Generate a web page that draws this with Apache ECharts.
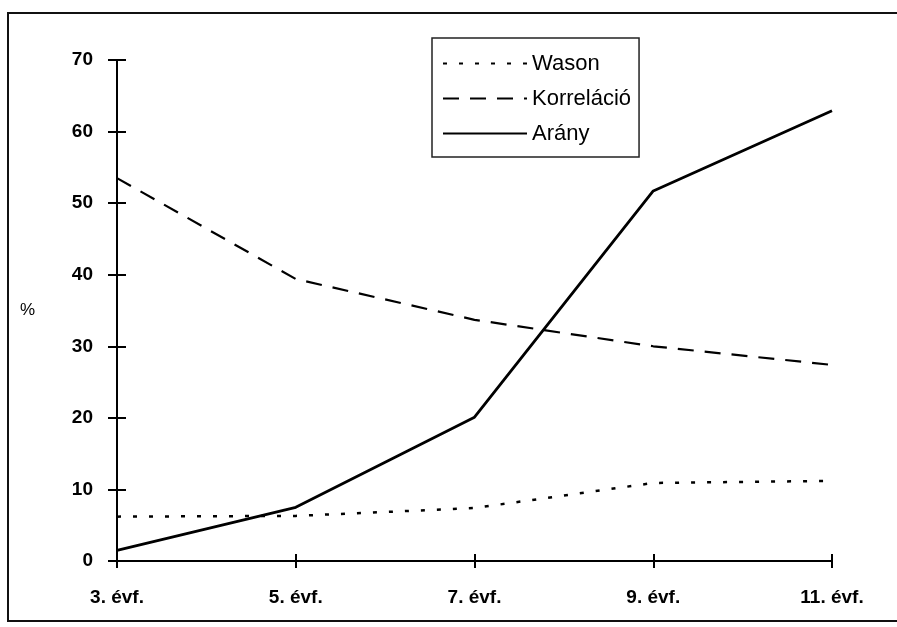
<!DOCTYPE html>
<html>
<head>
<meta charset="utf-8">
<script src="https://cdn.jsdelivr.net/npm/echarts@6/dist/echarts.min.js"></script>
<style>
html,body{margin:0;padding:0;background:#fff;}
#main{width:897px;height:627px;}
</style>
</head>
<body>
<div id="main"></div>
<script>
var categories = ['3. évf.', '5. évf.', '7. évf.', '9. évf.', '11. évf.'];
var wason = [6.2, 6.3, 7.4, 10.9, 11.2];
var korrelacio = [53.5, 39.4, 33.7, 30.0, 27.4];
var arany = [1.5, 7.5, 20.1, 51.7, 62.9];
var yTicks = [0, 10, 20, 30, 40, 50, 60, 70];

var chart = echarts.init(document.getElementById('main'));

var fontFam = 'Liberation Sans, Arial, sans-serif';

var option = {
  backgroundColor: '#fff',
  animation: false,
  graphic: [{
    type: 'rect',
    shape: { x: 8, y: 13, width: 900, height: 608 },
    style: { fill: 'none', stroke: '#111', lineWidth: 2 }
  }],
  legend: {
    orient: 'vertical',
    left: 432,
    top: 38,
    padding: [13, 8, 11, 10],
    itemGap: 10,
    itemWidth: 84,
    itemHeight: 25,
    borderColor: '#222',
    borderWidth: 1.5,
    borderRadius: 0,
    itemStyle: { opacity: 0 },
    textStyle: { color: '#000', fontFamily: fontFam, fontSize: 22, lineHeight: 25 },
    data: ['Wason', 'Korreláció', 'Arány']
  },
  grid: { left: 117, right: 65, top: 60, bottom: 66, containLabel: false },
  xAxis: [{
    type: 'category',
    data: categories,
    boundaryGap: false,
    axisLine: { lineStyle: { color: '#000', width: 2 } },
    axisTick: { show: true, length: 7, lineStyle: { color: '#000', width: 2 } },
    axisLabel: { margin: 27, color: '#000', fontFamily: fontFam, fontWeight: 'bold', fontSize: 19 },
    splitLine: { show: false }
  }, {
    type: 'category',
    data: categories,
    boundaryGap: false,
    position: 'bottom',
    axisLine: { show: false },
    axisTick: { show: true, inside: true, length: 7, lineStyle: { color: '#000', width: 2 } },
    axisLabel: { show: false },
    splitLine: { show: false }
  }],
  yAxis: [{
    type: 'value',
    min: yTicks[0],
    max: yTicks[yTicks.length - 1],
    interval: 10,
    name: '%',
    nameLocation: 'middle',
    nameGap: 82,
    nameRotate: 0,
    nameTextStyle: { color: '#000', fontFamily: fontFam, fontSize: 17, padding: [0, 0, 18, 0] },
    axisLine: { show: true, lineStyle: { color: '#000', width: 2 } },
    axisTick: { show: true, length: 9, lineStyle: { color: '#000', width: 2 } },
    axisLabel: { margin: 24, color: '#000', fontFamily: fontFam, fontWeight: 'bold', fontSize: 19 },
    splitLine: { show: false }
  }, {
    type: 'value',
    min: yTicks[0],
    max: yTicks[yTicks.length - 1],
    interval: 10,
    position: 'left',
    axisLine: { show: false },
    axisTick: { show: true, inside: true, length: 9, lineStyle: { color: '#000', width: 2 } },
    axisLabel: { show: false },
    splitLine: { show: false }
  }],
  series: [{
    name: 'Wason',
    type: 'line',
    data: wason,
    symbol: 'none',
    itemStyle: { color: '#000' },
    lineStyle: { color: '#000', width: 2.5, type: [4, 12] }
  }, {
    name: 'Korreláció',
    type: 'line',
    data: korrelacio,
    symbol: 'none',
    itemStyle: { color: '#000' },
    lineStyle: { color: '#000', width: 2.2, type: [16, 11] }
  }, {
    name: 'Arány',
    type: 'line',
    data: arany,
    symbol: 'none',
    itemStyle: { color: '#000' },
    lineStyle: { color: '#000', width: 2.8, type: 'solid' }
  }]
};

chart.setOption(option);
</script>
</body>
</html>
